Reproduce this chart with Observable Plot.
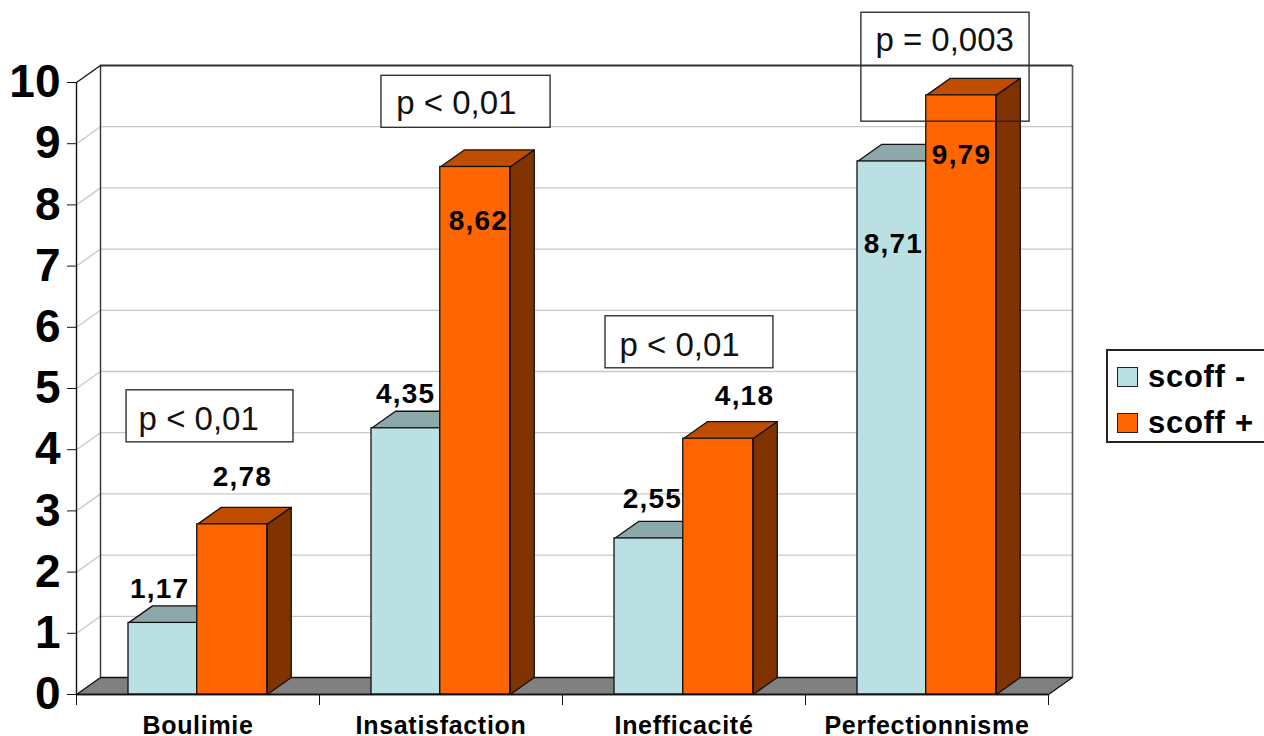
<!DOCTYPE html>
<html>
<head>
<meta charset="utf-8">
<script src="https://cdn.jsdelivr.net/npm/d3@7"></script>
<script src="https://cdn.jsdelivr.net/npm/@observablehq/plot@0.6"></script>
<style>
  html, body { margin: 0; padding: 0; background: #fff; overflow: hidden; }
  #wrap { position: relative; width: 1264px; height: 736px; font-family: "Liberation Sans", Arial, sans-serif; }
  #wrap svg { display: block; }
  .vals text { letter-spacing: 1.2px; }
  .cats text { letter-spacing: 0.7px; }
  #legend { position: absolute; left: 1106px; top: 349px; width: 160px; height: 94px; box-sizing: border-box;
            border: 2px solid #222; background: #fff; font-weight: bold; font-size: 31px; letter-spacing: 0.7px; color: #000; }
  .row { position: absolute; left: 9px; height: 21px; display: flex; align-items: center; white-space: pre; }
  .sw { width: 21px; height: 20px; border: 1.5px solid #222; box-sizing: border-box; margin-right: 10px; }
</style>
</head>
<body>
<div id="wrap"></div>
<script>
const categories = ["Boulimie", "Insatisfaction", "Inefficacité", "Perfectionnisme"];
const scoffMinus = [1.17, 4.35, 2.55, 8.71];
const scoffPlus  = [2.78, 8.62, 4.18, 9.79];
const yTicks = [0, 1, 2, 3, 4, 5, 6, 7, 8, 9, 10];
const xTicks = [0, 1, 2, 3, 4];

// value labels: text, x in category units, y in value units
const labelText = ["1,17", "2,78", "4,35", "8,62", "2,55", "4,18", "8,71", "9,79"];
const labelX = [0.342, 0.683, 1.354, 1.654, 2.370, 2.749, 3.362, 3.642];
const labelY = [1.716, 3.546, 4.902, 7.729, 3.186, 4.869, 7.353, 8.807];

// significance boxes, in the same units
const boxText = ["p < 0,01", "p < 0,01", "p < 0,01", "p = 0,003"];
const boxX1 = [0.206, 1.255, 2.177, 3.230];
const boxX2 = [0.893, 1.951, 2.868, 3.922];
const boxY1 = [4.12, 9.26, 5.33, 9.36];
const boxY2 = [4.97, 10.11, 6.18, 11.14];
const boxFill = ["white", "white", "white", "none"];
const boxTextX = [0.198, 1.258, 2.177, 3.230];
const boxTextY = [4.50, 9.65, 5.71, 10.69];

// 3D geometry in scale units
const depthX = 0.0988, depthY = 0.278;
const barL = 0.214, barM = 0.497, barR = 0.785;

const C = {
  lightFront: "#BAE0E3", lightTop: "#8DA8AA", lightSide: "#5D7072",
  orangeFront: "#FF6600", orangeTop: "#BF4D00", orangeSide: "#803300",
  floor: "#808080", grid: "#C8C8C8", edge: "#111"
};

function poly(pts, id) { return pts.map(([x, y]) => ({x, y, id})); }
function barFaces(values, lo, hi) {
  const top = [], side = [];
  values.forEach((v, i) => {
    const a = i + lo, b = i + hi;
    top.push(...poly([[a, v], [b, v], [b + depthX, v + depthY], [a + depthX, v + depthY]], i));
    side.push(...poly([[b, 0], [b + depthX, depthY], [b + depthX, v + depthY], [b, v]], i));
  });
  return {top, side};
}
const lightF = barFaces(scoffMinus, barL, barM);
const orangeF = barFaces(scoffPlus, barM, barR);
const face = (data, fill) => Plot.line(data, {x: "x", y: "y", z: "id", fill, stroke: C.edge, strokeWidth: 1.3, curve: "linear-closed"});
const front = (values, lo, hi, fill) => Plot.rect(values, {
  x1: (d, i) => i + lo, x2: (d, i) => i + hi, y1: 0, y2: d => d,
  fill, stroke: C.edge, strokeWidth: 1.3
});

const chart = Plot.plot({
  width: 1264, height: 736,
  marginLeft: 76, marginRight: 216, marginTop: 82, marginBottom: 42,
  style: {background: "#fff", fontFamily: '"Liberation Sans", Arial, sans-serif', color: "#000"},
  x: {type: "linear", domain: [0, 4]},
  y: {type: "linear", domain: [0, 10]},
  marks: [
    // floor
    face(poly([[0, 0], [4, 0], [4 + depthX, depthY], [depthX, depthY]], "floor"), C.floor),
    // back wall grid
    Plot.ruleY(yTicks.slice(1, -1), {y: d => d + depthY, x1: depthX, x2: 4 + depthX, stroke: C.grid, strokeWidth: 1.3, strokeOpacity: 1}),
    Plot.link(yTicks.slice(1, -1), {x1: 0, y1: d => d, x2: depthX, y2: d => d + depthY, stroke: C.grid, strokeWidth: 1.3, strokeOpacity: 1}),
    // walls
    Plot.ruleX([depthX], {y1: depthY, y2: 10 + depthY, stroke: "#333", strokeWidth: 1.4}),
    Plot.ruleX([4 + depthX], {y1: depthY, y2: 10 + depthY, stroke: "#555", strokeWidth: 1.6}),
    Plot.ruleY([10 + depthY], {x1: depthX, x2: 4 + depthX, stroke: "#333", strokeWidth: 1.8}),
    Plot.link([0], {x1: 0, y1: 10, x2: depthX, y2: 10 + depthY, stroke: "#111", strokeWidth: 1.3}),
    // bars
    face(lightF.top, C.lightTop),
    face(lightF.side, C.lightSide),
    front(scoffMinus, barL, barM, C.lightFront),
    face(orangeF.top, C.orangeTop),
    face(orangeF.side, C.orangeSide),
    front(scoffPlus, barM, barR, C.orangeFront),
    // axes
    Plot.ruleX([0], {y1: 0, y2: 10, stroke: "#111", strokeWidth: 1.4}),
    Plot.ruleY([0], {x1: 0, x2: 4, stroke: "#111", strokeWidth: 1.4}),
    Plot.axisY({ticks: yTicks, anchor: "left", tickSize: 9, tickPadding: 7, label: null,
      fontSize: 46, fontWeight: "bold", stroke: "#111", strokeOpacity: 1, fill: "#000"}),
    Plot.axisX({ticks: xTicks, anchor: "bottom", tickSize: 11, label: null, tickFormat: () => "", stroke: "#111", strokeOpacity: 1}),
    Plot.text(categories, {x: (d, i) => i + 0.5, y: 0, text: d => d, dy: 31, fontSize: 25, fontWeight: "bold", fill: "#000",
      lineAnchor: "middle", className: "cats"}),
    // value labels
    Plot.text(labelText, {x: (d, i) => labelX[i], y: (d, i) => labelY[i], text: d => d, fontSize: 28, fontWeight: "bold", fill: "#000",
      lineAnchor: "middle", className: "vals"}),
    // significance boxes
    Plot.rect(boxText, {x1: (d, i) => boxX1[i], x2: (d, i) => boxX2[i], y1: (d, i) => boxY1[i], y2: (d, i) => boxY2[i],
      fill: (d, i) => boxFill[i], stroke: "#222", strokeWidth: 1.3}),
    Plot.text(boxText, {x: (d, i) => boxTextX[i], y: (d, i) => boxTextY[i], text: d => d, dx: 14, textAnchor: "start",
      fontSize: 33, fill: "#111", lineAnchor: "middle"})
  ]
});
const wrap = document.getElementById("wrap");
wrap.appendChild(chart);

// legend
const legendEntries = [["scoff -", C.lightFront], ["scoff +", C.orangeFront]];
const legend = document.createElement("div");
legend.id = "legend";
legendEntries.forEach(([name, color], i) => {
  const row = document.createElement("div");
  row.className = "row";
  row.style.top = (i === 0 ? 15 : 61) + "px";
  const sw = document.createElement("span");
  sw.className = "sw";
  sw.style.background = color;
  row.appendChild(sw);
  row.appendChild(document.createTextNode(name));
  legend.appendChild(row);
});
wrap.appendChild(legend);
</script>
</body>
</html>
